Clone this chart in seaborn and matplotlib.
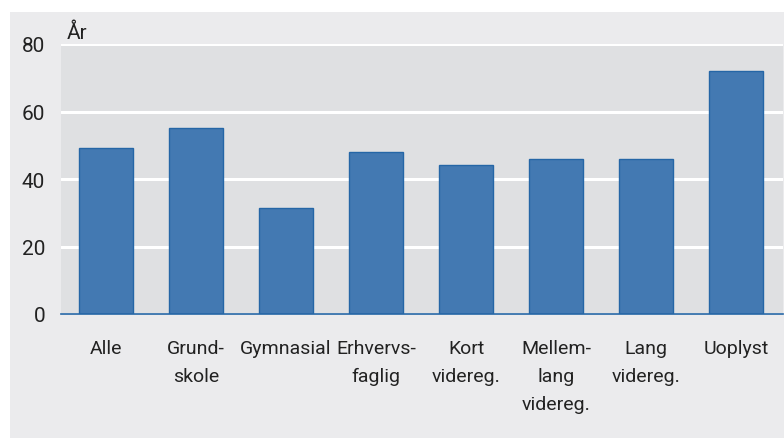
#!/usr/bin/env python
# encoding: utf-8

import pandas as pd
import matplotlib.pyplot as plt
import seaborn as sns

categories = ['Alle', 'Grund-\nskole', 'Gymnasial', 'Erhvervs-\nfaglig',
              'Kort\nvidereg.', 'Mellem-\nlang\nvidereg.', 'Lang\nvidereg.', 'Uoplyst']
values = [49.2, 55.1, 31.4, 48.0, 44.1, 45.9, 45.9, 72.0]
y_ticks = [0, 20, 40, 60, 80]
y_title = 'År'

PANEL_BG = '#ebebed'
AXES_BG = '#dfe0e2'
BAR_COLOR = '#4379b2'
EDGE_COLOR = '#2566a6'
TEXT_COLOR = '#222222'


def main():
    df = pd.DataFrame({'cat': categories, 'val': values})

    sns.set_theme(style='white')
    plt.rcParams['font.family'] = ['Roboto', 'DejaVu Sans']

    fig = plt.figure(figsize=(7.84, 4.39), dpi=100, facecolor='white')
    # grey panel behind the chart
    fig.patches.append(plt.Rectangle((10 / 784, 0), 1, 1 - 13 / 439,
                                     transform=fig.transFigure,
                                     facecolor=PANEL_BG, edgecolor='none', zorder=-5))
    ax = fig.add_axes([61 / 784, (439 - 315) / 439, (783 - 61) / 784, (315 - 45) / 439])
    ax.set_facecolor(AXES_BG)

    sns.barplot(x='cat', y='val', data=df, color=BAR_COLOR, width=0.6,
                edgecolor=EDGE_COLOR, linewidth=1, saturation=1, ax=ax, zorder=3)

    ax.set_xlim(-0.5, 7.52)
    ax.set_ylim(0, 80)
    ax.set_yticks(y_ticks)
    ax.yaxis.grid(True, color='white', linewidth=2.2, zorder=1)
    ax.set_axisbelow(True)
    sns.despine(ax=ax, left=True, top=True, right=True, bottom=False)
    ax.spines['bottom'].set_color(EDGE_COLOR)
    ax.spines['bottom'].set_linewidth(1.2)
    ax.spines['bottom'].set_zorder(5)

    ax.tick_params(axis='y', length=0, pad=11.5, labelsize=15, labelcolor=TEXT_COLOR)
    ax.tick_params(axis='x', length=0, pad=18, labelsize=14, labelcolor=TEXT_COLOR)
    for lbl in ax.get_xticklabels():
        lbl.set_linespacing(1.72)
        lbl.set_horizontalalignment('center')

    ax.set_xlabel('')
    ax.set_ylabel('')
    ax.text(67 / 784, 1 - 33 / 439, y_title, transform=fig.transFigure,
            fontsize=15, color=TEXT_COLOR, va='center', ha='left')

    fig.savefig('out.png', dpi=100, facecolor='white')


if __name__ == '__main__':
    main()
